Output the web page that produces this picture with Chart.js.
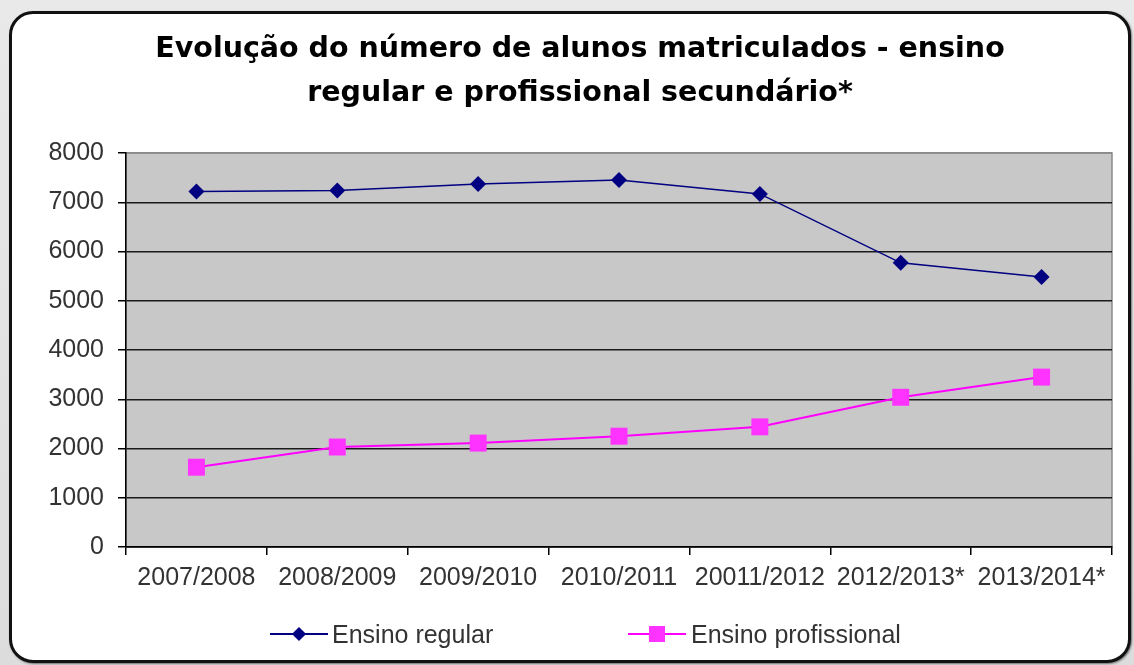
<!DOCTYPE html>
<html>
<head>
<meta charset="utf-8">
<script src="https://cdn.jsdelivr.net/npm/chart.js@4"></script>
<style>
    html, body {
        margin: 0;
        padding: 0;
        width: 1134px;
        height: 665px;
        overflow: hidden;
        background: linear-gradient(#e9e9e9, #dcdcdc);
        font-family: "Liberation Sans", Arial, sans-serif;
    }
    .frame {
        position: absolute;
        left: 9px;
        top: 11px;
        width: 1116px;
        height: 646px;
        background: #fff;
        border: 3px solid #111;
        border-radius: 24px;
        box-shadow: 1px 1px 2px rgba(0, 0, 0, 0.5);
    }
    #chart {
        position: absolute;
        left: 0;
        top: 0;
    }
    .legend {
        position: absolute;
        top: 619px;
        left: 0;
        width: 1134px;
        height: 30px;
        font-size: 25px;
        color: #333;
    }
    .legend-item {
        position: absolute;
        top: 0;
        height: 30px;
        line-height: 30px;
        white-space: nowrap;
    }
    .legend-line {
        position: absolute;
        top: 14px;
        width: 58px;
        height: 0;
    }
    .legend-marker {
        position: absolute;
    }
</style>
</head>
<body>
<div class="frame"></div>
<canvas id="chart" width="1134" height="665"></canvas>
<div class="legend">
    <div class="legend-item" style="left:270px;">
        <div class="legend-line" style="left:0; border-top:2px solid #000080;"></div>
        <div class="legend-marker" style="left:24px; top:10px; width:10px; height:10px; background:#000080; transform:rotate(45deg);"></div>
        <span style="margin-left:62px;">Ensino regular</span>
    </div>
    <div class="legend-item" style="left:628px;">
        <div class="legend-line" style="left:0; border-top:2px solid #ff00ff;"></div>
        <div class="legend-marker" style="left:21px; top:7px; width:16px; height:16px; background:#ff33ff;"></div>
        <span style="margin-left:63px;">Ensino profissional</span>
    </div>
</div>
<script>
// Chart data
const anosLetivos = ['2007/2008', '2008/2009', '2009/2010', '2010/2011', '20011/2012', '2012/2013*', '2013/2014*'];
const ensinoRegular = [7220, 7240, 7370, 7450, 7170, 5770, 5480];
const ensinoProfissional = [1620, 2030, 2110, 2250, 2440, 3040, 3450];
const yTicks = [0, 1000, 2000, 3000, 4000, 5000, 6000, 7000, 8000];

const tickFont = { family: '"Liberation Sans", Arial, sans-serif', size: 25 };

// Grey plot area with a thin border, like the old spreadsheet charts
const plotBackground = {
    id: 'plotBackground',
    beforeDraw(chart) {
        const { ctx, chartArea } = chart;
        ctx.save();
        ctx.fillStyle = '#c8c8c8';
        ctx.fillRect(chartArea.left, chartArea.top, chartArea.width, chartArea.height);
        ctx.strokeStyle = '#8a8a8a';
        ctx.lineWidth = 1.5;
        ctx.strokeRect(chartArea.left, chartArea.top, chartArea.width, chartArea.height);
        ctx.restore();
    }
};

document.addEventListener('DOMContentLoaded', function () {
    const ctx = document.getElementById('chart').getContext('2d');
    new Chart(ctx, {
        type: 'line',
        data: {
            labels: anosLetivos,
            datasets: [{
                label: 'Ensino regular',
                data: ensinoRegular,
                borderColor: '#000080',
                backgroundColor: '#000080',
                borderWidth: 1.5,
                pointStyle: 'rectRot',
                pointRadius: 8,
                pointBorderWidth: 0,
                tension: 0
            }, {
                label: 'Ensino profissional',
                data: ensinoProfissional,
                borderColor: '#ff00ff',
                backgroundColor: '#ff33ff',
                borderWidth: 2,
                pointStyle: 'rect',
                pointRadius: 12,
                pointBorderWidth: 0,
                tension: 0
            }]
        },
        options: {
            responsive: false,
            animation: false,
            layout: {
                padding: { left: 48, right: 22, top: 0, bottom: 0 }
            },
            plugins: {
                legend: { display: false },
                tooltip: { enabled: false },
                title: {
                    display: true,
                    text: ['Evolução do número de alunos matriculados - ensino', 'regular e profissional secundário*'],
                    color: '#000',
                    font: { family: '"DejaVu Sans", sans-serif', size: 28.5, weight: 'bold', lineHeight: 1.544 },
                    padding: { top: 28, bottom: 37 }
                }
            },
            scales: {
                x: {
                    offset: true,
                    afterFit(scale) { scale.height = 118; },
                    border: { color: '#000', width: 1.5 },
                    grid: {
                        offset: true,
                        drawOnChartArea: false,
                        drawTicks: true,
                        tickLength: 8,
                        color: '#000',
                        lineWidth: 1.5
                    },
                    ticks: {
                        font: tickFont,
                        color: '#333',
                        maxRotation: 0,
                        autoSkip: false,
                        padding: 8
                    }
                },
                y: {
                    min: 0,
                    max: 8000,
                    afterFit(scale) { scale.width = 78; },
                    afterBuildTicks(scale) {
                        scale.ticks = yTicks.map(v => ({ value: v }));
                    },
                    border: { color: '#000', width: 1.5 },
                    grid: {
                        color: c => (c.tick && c.tick.value === 8000) ? '#8a8a8a' : '#1a1a1a',
                        tickColor: '#000',
                        lineWidth: 1.5,
                        tickLength: 8
                    },
                    ticks: {
                        font: tickFont,
                        color: '#333',
                        padding: 14,
                        callback: value => String(value)
                    }
                }
            }
        },
        plugins: [plotBackground]
    });
});
</script>
</body>
</html>
